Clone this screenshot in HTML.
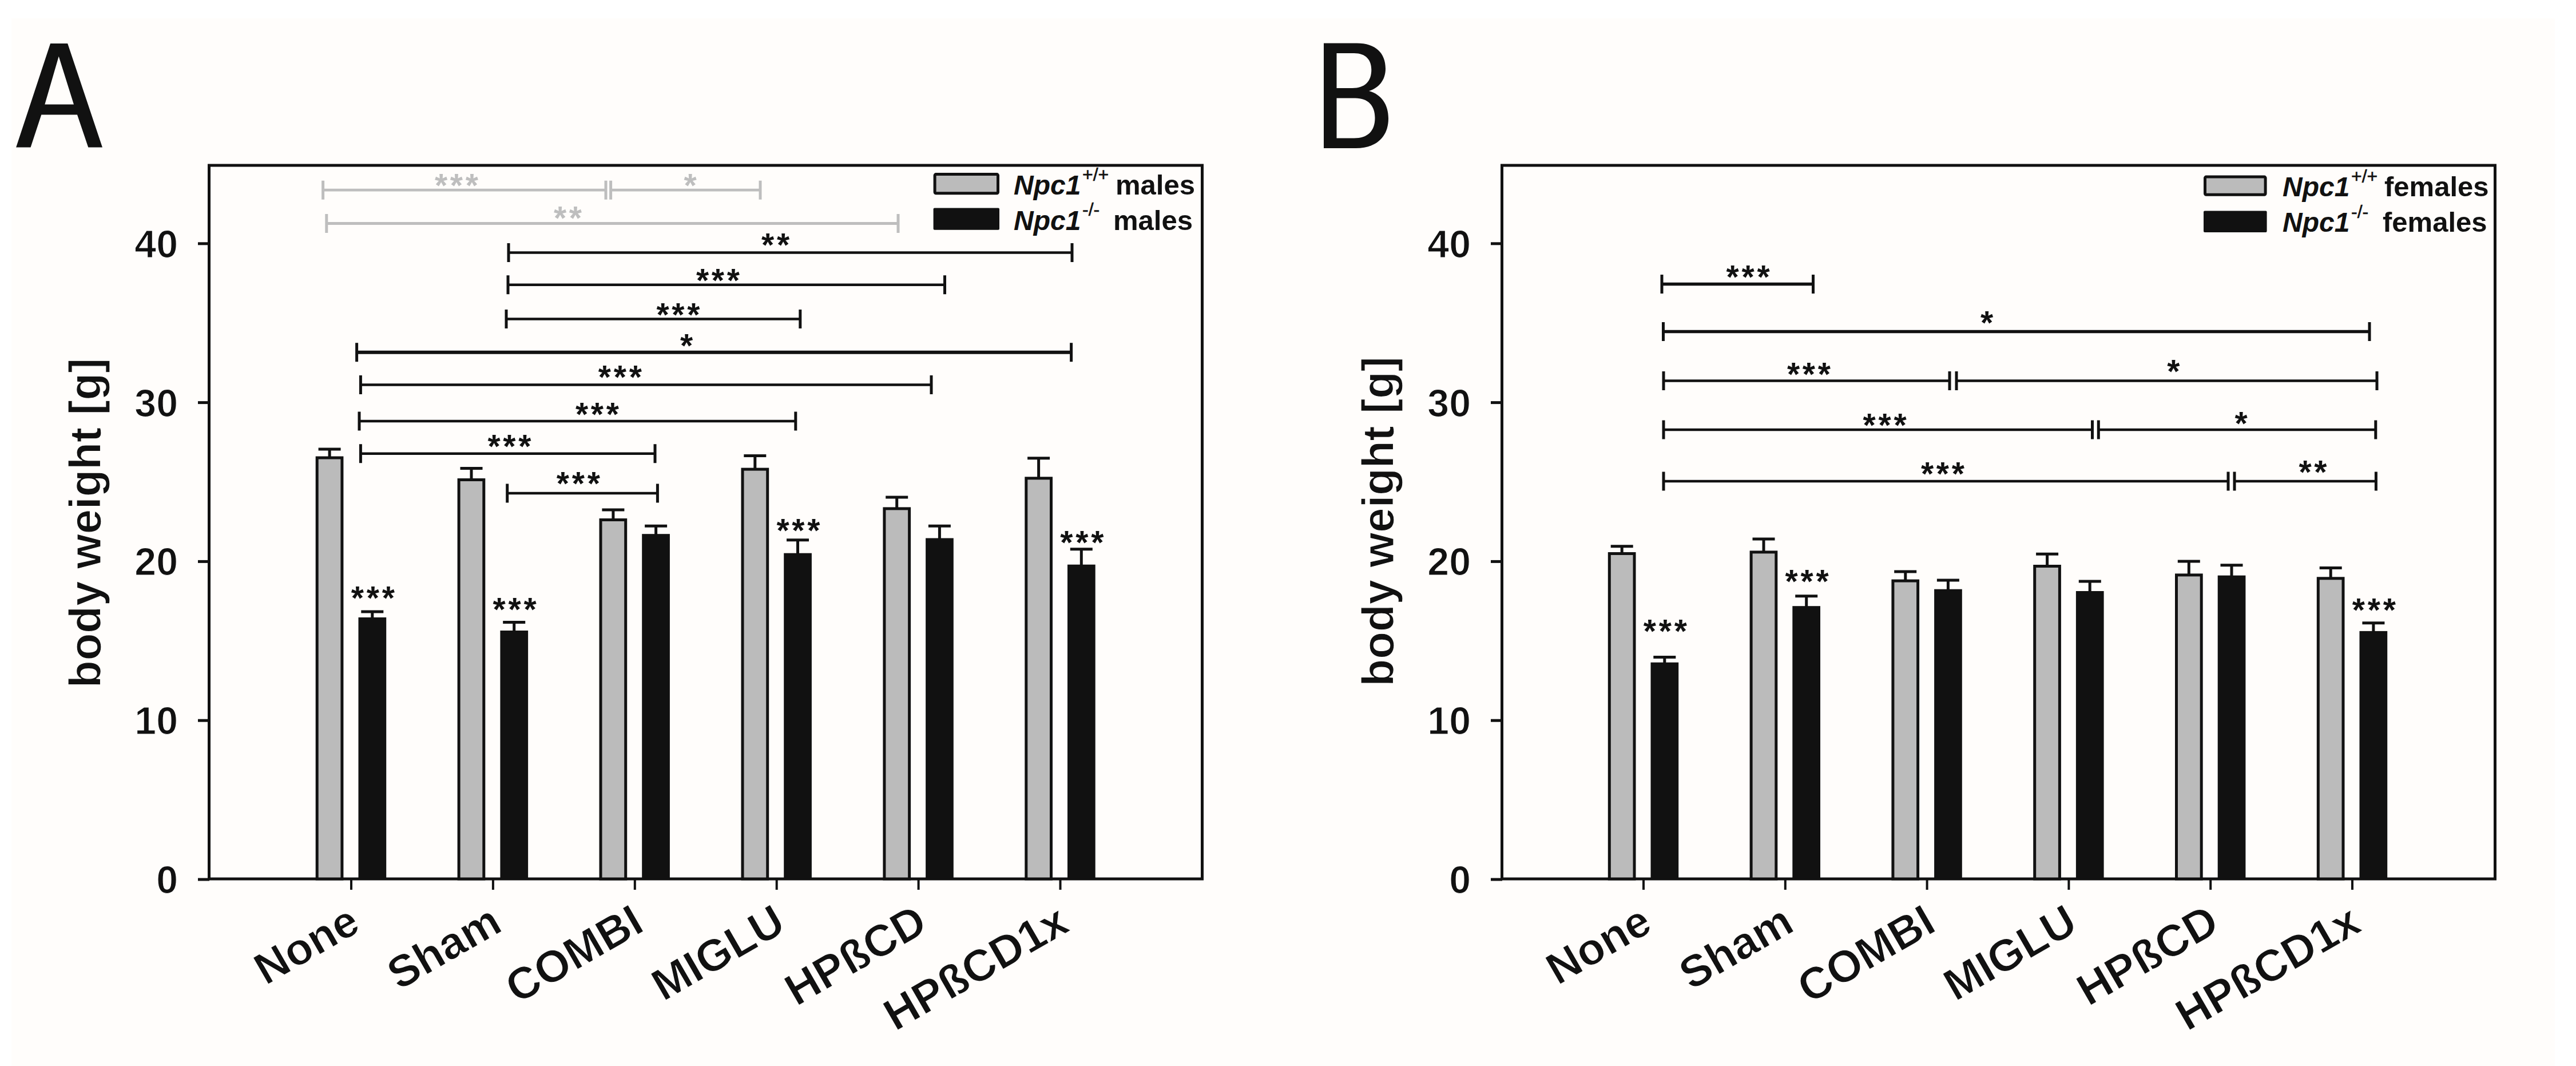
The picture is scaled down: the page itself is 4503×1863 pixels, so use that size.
<!DOCTYPE html>
<html><head><meta charset="utf-8"><style>
html,body{margin:0;padding:0;background:#ffffff;overflow:hidden}
svg{display:block}
</style></head><body>
<svg width="4503" height="1863" viewBox="0 0 4503 1863" font-family='"Liberation Sans", sans-serif'>
<rect width="4503" height="1863" fill="#ffffff"/>
<rect x="20" y="32" width="4446" height="1831" fill="#fffdfb"/>
<path fill-rule="evenodd" fill="#111" d="M28.1,257.6 L88.1,76 L118.2,76 L179,257.6 L154.3,257.6 L135,200.4 L72.3,200.4 L53.5,257.6 Z M78.3,182.4 L102.7,98.5 L129,182.4 Z"/>
<path fill-rule="evenodd" fill="#111" d="M2314,75.5 L2372,75.5 C2405,75.5 2422,93 2422,120 C2422,140 2410,154 2393,159 C2415,165 2427,183 2427,207 C2427,240 2405,259 2370,259 L2314,259 Z M2336.5,93 L2367,93 C2388,93 2397.3,105 2397.3,122 C2397.3,142 2386,154 2364,154 L2336.5,154 Z M2336.5,171.4 L2369,171.4 C2392,171.4 2403.5,185 2403.5,206 C2403.5,229 2391,241.5 2367,241.5 L2336.5,241.5 Z"/>
<rect x="365.5" y="289" width="1736" height="1247" fill="none" stroke="#111111" stroke-width="5"/>
<line x1="346.0" y1="1537.0" x2="366.0" y2="1537.0" stroke="#111111" stroke-width="5"/>
<text x="311" y="1561.0" font-size="68" text-anchor="end" font-weight="bold" stroke="#fffdfb" stroke-width="1.2" fill="#111111">0</text>
<line x1="346.0" y1="1259.2" x2="366.0" y2="1259.2" stroke="#111111" stroke-width="5"/>
<text x="311" y="1283.2" font-size="68" text-anchor="end" font-weight="bold" stroke="#fffdfb" stroke-width="1.2" fill="#111111">10</text>
<line x1="346.0" y1="981.4" x2="366.0" y2="981.4" stroke="#111111" stroke-width="5"/>
<text x="311" y="1005.4" font-size="68" text-anchor="end" font-weight="bold" stroke="#fffdfb" stroke-width="1.2" fill="#111111">20</text>
<line x1="346.0" y1="703.6" x2="366.0" y2="703.6" stroke="#111111" stroke-width="5"/>
<text x="311" y="727.6" font-size="68" text-anchor="end" font-weight="bold" stroke="#fffdfb" stroke-width="1.2" fill="#111111">30</text>
<line x1="346.0" y1="425.8" x2="366.0" y2="425.8" stroke="#111111" stroke-width="5"/>
<text x="311" y="449.8" font-size="68" text-anchor="end" font-weight="bold" stroke="#fffdfb" stroke-width="1.2" fill="#111111">40</text>
<rect x="554.2" y="800.0" width="43.7" height="736.0" fill="#bbbbbb" stroke="#111111" stroke-width="5"/>
<line x1="576.1" y1="785.0" x2="576.1" y2="799.5" stroke="#111111" stroke-width="5"/>
<line x1="556.6" y1="785.0" x2="595.6" y2="785.0" stroke="#111111" stroke-width="5"/>
<rect x="626.5" y="1079.0" width="48.7" height="457.0" fill="#111111"/>
<line x1="650.8" y1="1069.0" x2="650.8" y2="1080.0" stroke="#111111" stroke-width="5"/>
<line x1="631.3" y1="1069.0" x2="670.3" y2="1069.0" stroke="#111111" stroke-width="5"/>
<text x="613.7" y="1065.2" font-size="57" letter-spacing="4.8" fill="#111111" font-weight="bold">***</text>
<line x1="614.0" y1="1536.0" x2="614.0" y2="1555.0" stroke="#111111" stroke-width="4"/>
<rect x="802.1" y="838.5" width="43.7" height="697.5" fill="#bbbbbb" stroke="#111111" stroke-width="5"/>
<line x1="824.0" y1="818.5" x2="824.0" y2="838.0" stroke="#111111" stroke-width="5"/>
<line x1="804.5" y1="818.5" x2="843.5" y2="818.5" stroke="#111111" stroke-width="5"/>
<rect x="874.4" y="1102.0" width="48.7" height="434.0" fill="#111111"/>
<line x1="898.7" y1="1087.5" x2="898.7" y2="1103.0" stroke="#111111" stroke-width="5"/>
<line x1="879.2" y1="1087.5" x2="918.2" y2="1087.5" stroke="#111111" stroke-width="5"/>
<text x="861.6" y="1084.9" font-size="57" letter-spacing="4.8" fill="#111111" font-weight="bold">***</text>
<line x1="861.9" y1="1536.0" x2="861.9" y2="1555.0" stroke="#111111" stroke-width="4"/>
<rect x="1050.0" y="908.5" width="43.7" height="627.5" fill="#bbbbbb" stroke="#111111" stroke-width="5"/>
<line x1="1071.9" y1="891.0" x2="1071.9" y2="908.0" stroke="#111111" stroke-width="5"/>
<line x1="1052.4" y1="891.0" x2="1091.4" y2="891.0" stroke="#111111" stroke-width="5"/>
<rect x="1122.2" y="933.2" width="48.7" height="602.8" fill="#111111"/>
<line x1="1146.6" y1="919.2" x2="1146.6" y2="934.2" stroke="#111111" stroke-width="5"/>
<line x1="1127.1" y1="919.2" x2="1166.1" y2="919.2" stroke="#111111" stroke-width="5"/>
<line x1="1109.8" y1="1536.0" x2="1109.8" y2="1555.0" stroke="#111111" stroke-width="4"/>
<rect x="1298.0" y="820.1" width="43.7" height="715.9" fill="#bbbbbb" stroke="#111111" stroke-width="5"/>
<line x1="1319.8" y1="796.6" x2="1319.8" y2="819.6" stroke="#111111" stroke-width="5"/>
<line x1="1300.3" y1="796.6" x2="1339.3" y2="796.6" stroke="#111111" stroke-width="5"/>
<rect x="1370.2" y="966.7" width="48.7" height="569.3" fill="#111111"/>
<line x1="1394.5" y1="943.7" x2="1394.5" y2="967.7" stroke="#111111" stroke-width="5"/>
<line x1="1375.0" y1="943.7" x2="1414.0" y2="943.7" stroke="#111111" stroke-width="5"/>
<text x="1357.4" y="947.2" font-size="57" letter-spacing="4.8" fill="#111111" font-weight="bold">***</text>
<line x1="1357.7" y1="1536.0" x2="1357.7" y2="1555.0" stroke="#111111" stroke-width="4"/>
<rect x="1545.9" y="888.9" width="43.7" height="647.1" fill="#bbbbbb" stroke="#111111" stroke-width="5"/>
<line x1="1567.7" y1="869.0" x2="1567.7" y2="888.4" stroke="#111111" stroke-width="5"/>
<line x1="1548.2" y1="869.0" x2="1587.2" y2="869.0" stroke="#111111" stroke-width="5"/>
<rect x="1618.1" y="940.5" width="48.7" height="595.5" fill="#111111"/>
<line x1="1642.4" y1="919.3" x2="1642.4" y2="941.5" stroke="#111111" stroke-width="5"/>
<line x1="1622.9" y1="919.3" x2="1661.9" y2="919.3" stroke="#111111" stroke-width="5"/>
<line x1="1605.6" y1="1536.0" x2="1605.6" y2="1555.0" stroke="#111111" stroke-width="4"/>
<rect x="1793.8" y="835.8" width="43.7" height="700.2" fill="#bbbbbb" stroke="#111111" stroke-width="5"/>
<line x1="1815.6" y1="800.8" x2="1815.6" y2="835.3" stroke="#111111" stroke-width="5"/>
<line x1="1796.1" y1="800.8" x2="1835.1" y2="800.8" stroke="#111111" stroke-width="5"/>
<rect x="1866.0" y="986.7" width="48.7" height="549.3" fill="#111111"/>
<line x1="1890.3" y1="959.8" x2="1890.3" y2="987.7" stroke="#111111" stroke-width="5"/>
<line x1="1870.8" y1="959.8" x2="1909.8" y2="959.8" stroke="#111111" stroke-width="5"/>
<text x="1853.2" y="967.8" font-size="57" letter-spacing="4.8" fill="#111111" font-weight="bold">***</text>
<line x1="1853.5" y1="1536.0" x2="1853.5" y2="1555.0" stroke="#111111" stroke-width="4"/>
<text transform="translate(176,1202) rotate(-90)" font-size="78" font-weight="bold" stroke="#fffdfb" stroke-width="1.2" fill="#111111">body weight [g]</text>
<rect x="2625.5" y="289" width="1736" height="1247" fill="none" stroke="#111111" stroke-width="5"/>
<line x1="2606.0" y1="1537.0" x2="2626.0" y2="1537.0" stroke="#111111" stroke-width="5"/>
<text x="2571" y="1561.0" font-size="68" text-anchor="end" font-weight="bold" stroke="#fffdfb" stroke-width="1.2" fill="#111111">0</text>
<line x1="2606.0" y1="1259.2" x2="2626.0" y2="1259.2" stroke="#111111" stroke-width="5"/>
<text x="2571" y="1283.2" font-size="68" text-anchor="end" font-weight="bold" stroke="#fffdfb" stroke-width="1.2" fill="#111111">10</text>
<line x1="2606.0" y1="981.4" x2="2626.0" y2="981.4" stroke="#111111" stroke-width="5"/>
<text x="2571" y="1005.4" font-size="68" text-anchor="end" font-weight="bold" stroke="#fffdfb" stroke-width="1.2" fill="#111111">20</text>
<line x1="2606.0" y1="703.6" x2="2626.0" y2="703.6" stroke="#111111" stroke-width="5"/>
<text x="2571" y="727.6" font-size="68" text-anchor="end" font-weight="bold" stroke="#fffdfb" stroke-width="1.2" fill="#111111">30</text>
<line x1="2606.0" y1="425.8" x2="2626.0" y2="425.8" stroke="#111111" stroke-width="5"/>
<text x="2571" y="449.8" font-size="68" text-anchor="end" font-weight="bold" stroke="#fffdfb" stroke-width="1.2" fill="#111111">40</text>
<rect x="2813.3" y="967.5" width="43.7" height="568.5" fill="#bbbbbb" stroke="#111111" stroke-width="5"/>
<line x1="2835.2" y1="954.8" x2="2835.2" y2="967.0" stroke="#111111" stroke-width="5"/>
<line x1="2815.7" y1="954.8" x2="2854.7" y2="954.8" stroke="#111111" stroke-width="5"/>
<rect x="2885.5" y="1157.7" width="48.7" height="378.3" fill="#111111"/>
<line x1="2909.8" y1="1148.5" x2="2909.8" y2="1158.7" stroke="#111111" stroke-width="5"/>
<line x1="2890.3" y1="1148.5" x2="2929.3" y2="1148.5" stroke="#111111" stroke-width="5"/>
<text x="2872.8" y="1123.2" font-size="57" letter-spacing="4.8" fill="#111111" font-weight="bold">***</text>
<line x1="2873.0" y1="1536.0" x2="2873.0" y2="1555.0" stroke="#111111" stroke-width="4"/>
<rect x="3061.1" y="964.9" width="43.7" height="571.1" fill="#bbbbbb" stroke="#111111" stroke-width="5"/>
<line x1="3083.0" y1="942.0" x2="3083.0" y2="964.4" stroke="#111111" stroke-width="5"/>
<line x1="3063.5" y1="942.0" x2="3102.5" y2="942.0" stroke="#111111" stroke-width="5"/>
<rect x="3133.3" y="1059.2" width="48.7" height="476.8" fill="#111111"/>
<line x1="3157.7" y1="1041.8" x2="3157.7" y2="1060.2" stroke="#111111" stroke-width="5"/>
<line x1="3138.2" y1="1041.8" x2="3177.2" y2="1041.8" stroke="#111111" stroke-width="5"/>
<text x="3120.6" y="1036.2" font-size="57" letter-spacing="4.8" fill="#111111" font-weight="bold">***</text>
<line x1="3120.8" y1="1536.0" x2="3120.8" y2="1555.0" stroke="#111111" stroke-width="4"/>
<rect x="3308.9" y="1015.1" width="43.7" height="520.9" fill="#bbbbbb" stroke="#111111" stroke-width="5"/>
<line x1="3330.8" y1="999.0" x2="3330.8" y2="1014.6" stroke="#111111" stroke-width="5"/>
<line x1="3311.2" y1="999.0" x2="3350.2" y2="999.0" stroke="#111111" stroke-width="5"/>
<rect x="3381.1" y="1029.7" width="48.7" height="506.3" fill="#111111"/>
<line x1="3405.4" y1="1014.0" x2="3405.4" y2="1030.7" stroke="#111111" stroke-width="5"/>
<line x1="3385.9" y1="1014.0" x2="3424.9" y2="1014.0" stroke="#111111" stroke-width="5"/>
<line x1="3368.6" y1="1536.0" x2="3368.6" y2="1555.0" stroke="#111111" stroke-width="4"/>
<rect x="3556.7" y="989.5" width="43.7" height="546.5" fill="#bbbbbb" stroke="#111111" stroke-width="5"/>
<line x1="3578.6" y1="968.3" x2="3578.6" y2="989.0" stroke="#111111" stroke-width="5"/>
<line x1="3559.1" y1="968.3" x2="3598.1" y2="968.3" stroke="#111111" stroke-width="5"/>
<rect x="3628.9" y="1033.0" width="48.7" height="503.0" fill="#111111"/>
<line x1="3653.2" y1="1015.9" x2="3653.2" y2="1034.0" stroke="#111111" stroke-width="5"/>
<line x1="3633.8" y1="1015.9" x2="3672.8" y2="1015.9" stroke="#111111" stroke-width="5"/>
<line x1="3616.4" y1="1536.0" x2="3616.4" y2="1555.0" stroke="#111111" stroke-width="4"/>
<rect x="3804.5" y="1004.9" width="43.7" height="531.1" fill="#bbbbbb" stroke="#111111" stroke-width="5"/>
<line x1="3826.3" y1="981.0" x2="3826.3" y2="1004.4" stroke="#111111" stroke-width="5"/>
<line x1="3806.8" y1="981.0" x2="3845.8" y2="981.0" stroke="#111111" stroke-width="5"/>
<rect x="3876.7" y="1005.7" width="48.7" height="530.3" fill="#111111"/>
<line x1="3901.0" y1="987.7" x2="3901.0" y2="1006.7" stroke="#111111" stroke-width="5"/>
<line x1="3881.5" y1="987.7" x2="3920.5" y2="987.7" stroke="#111111" stroke-width="5"/>
<line x1="3864.2" y1="1536.0" x2="3864.2" y2="1555.0" stroke="#111111" stroke-width="4"/>
<rect x="4052.3" y="1010.8" width="43.7" height="525.2" fill="#bbbbbb" stroke="#111111" stroke-width="5"/>
<line x1="4074.2" y1="992.6" x2="4074.2" y2="1010.3" stroke="#111111" stroke-width="5"/>
<line x1="4054.7" y1="992.6" x2="4093.7" y2="992.6" stroke="#111111" stroke-width="5"/>
<rect x="4124.5" y="1102.9" width="48.7" height="433.1" fill="#111111"/>
<line x1="4148.9" y1="1088.8" x2="4148.9" y2="1103.9" stroke="#111111" stroke-width="5"/>
<line x1="4129.4" y1="1088.8" x2="4168.4" y2="1088.8" stroke="#111111" stroke-width="5"/>
<text x="4111.8" y="1085.6" font-size="57" letter-spacing="4.8" fill="#111111" font-weight="bold">***</text>
<line x1="4112.0" y1="1536.0" x2="4112.0" y2="1555.0" stroke="#111111" stroke-width="4"/>
<text transform="translate(2436,1199.4) rotate(-90)" font-size="78" font-weight="bold" stroke="#fffdfb" stroke-width="1.2" fill="#111111">body weight [g]</text>
<text transform="translate(633.4,1625.2) rotate(-30)" font-size="78" font-weight="bold" text-anchor="end" stroke="#fffdfb" stroke-width="1.2" fill="#111111">None</text>
<text transform="translate(881.2,1625.2) rotate(-30)" font-size="78" font-weight="bold" text-anchor="end" stroke="#fffdfb" stroke-width="1.2" fill="#111111">Sham</text>
<text transform="translate(1129.2,1625.2) rotate(-30)" font-size="78" font-weight="bold" text-anchor="end" stroke="#fffdfb" stroke-width="1.2" fill="#111111">COMBI</text>
<text transform="translate(1377.1,1625.2) rotate(-30)" font-size="78" font-weight="bold" text-anchor="end" stroke="#fffdfb" stroke-width="1.2" fill="#111111">MIGLU</text>
<text transform="translate(1625.0,1625.2) rotate(-30)" font-size="78" font-weight="bold" text-anchor="end" stroke="#fffdfb" stroke-width="1.2" fill="#111111">HPßCD</text>
<text transform="translate(1872.9,1625.2) rotate(-30)" font-size="78" font-weight="bold" text-anchor="end" stroke="#fffdfb" stroke-width="1.2" fill="#111111">HPßCD1x</text>
<text transform="translate(2891.8,1625.2) rotate(-30)" font-size="78" font-weight="bold" text-anchor="end" stroke="#fffdfb" stroke-width="1.2" fill="#111111">None</text>
<text transform="translate(3139.8,1625.2) rotate(-30)" font-size="78" font-weight="bold" text-anchor="end" stroke="#fffdfb" stroke-width="1.2" fill="#111111">Sham</text>
<text transform="translate(3387.7,1625.2) rotate(-30)" font-size="78" font-weight="bold" text-anchor="end" stroke="#fffdfb" stroke-width="1.2" fill="#111111">COMBI</text>
<text transform="translate(3635.6,1625.2) rotate(-30)" font-size="78" font-weight="bold" text-anchor="end" stroke="#fffdfb" stroke-width="1.2" fill="#111111">MIGLU</text>
<text transform="translate(3883.5,1625.2) rotate(-30)" font-size="78" font-weight="bold" text-anchor="end" stroke="#fffdfb" stroke-width="1.2" fill="#111111">HPßCD</text>
<text transform="translate(4131.3,1625.2) rotate(-30)" font-size="78" font-weight="bold" text-anchor="end" stroke="#fffdfb" stroke-width="1.2" fill="#111111">HPßCD1x</text>
<line x1="564.6" y1="332.2" x2="1059.0" y2="332.2" stroke="#bebebe" stroke-width="4.8"/>
<line x1="564.6" y1="315.7" x2="564.6" y2="348.7" stroke="#bebebe" stroke-width="5"/>
<line x1="1059.0" y1="315.7" x2="1059.0" y2="348.7" stroke="#bebebe" stroke-width="5"/>
<text x="759.9" y="344.2" font-size="57" letter-spacing="4.8" fill="#bebebe" font-weight="bold">***</text>
<line x1="1067.6" y1="332.2" x2="1329.0" y2="332.2" stroke="#bebebe" stroke-width="4.8"/>
<line x1="1067.6" y1="315.7" x2="1067.6" y2="348.7" stroke="#bebebe" stroke-width="5"/>
<line x1="1329.0" y1="315.7" x2="1329.0" y2="348.7" stroke="#bebebe" stroke-width="5"/>
<text x="1195.4" y="344.2" font-size="57" letter-spacing="4.8" fill="#bebebe" font-weight="bold">*</text>
<line x1="570.8" y1="390.5" x2="1570.0" y2="390.5" stroke="#bebebe" stroke-width="4.8"/>
<line x1="570.8" y1="374.0" x2="570.8" y2="407.0" stroke="#bebebe" stroke-width="5"/>
<line x1="1570.0" y1="374.0" x2="1570.0" y2="407.0" stroke="#bebebe" stroke-width="5"/>
<text x="967.9" y="400.7" font-size="57" letter-spacing="4.8" fill="#bebebe" font-weight="bold">**</text>
<line x1="889.0" y1="441.5" x2="1874.0" y2="441.5" stroke="#111111" stroke-width="4.5"/>
<line x1="889.0" y1="425.0" x2="889.0" y2="458.0" stroke="#111111" stroke-width="5"/>
<line x1="1874.0" y1="425.0" x2="1874.0" y2="458.0" stroke="#111111" stroke-width="5"/>
<text x="1331.1" y="447.7" font-size="57" letter-spacing="4.8" fill="#111111" font-weight="bold">**</text>
<line x1="888.0" y1="497.7" x2="1651.5" y2="497.7" stroke="#111111" stroke-width="4.5"/>
<line x1="888.0" y1="481.2" x2="888.0" y2="514.2" stroke="#111111" stroke-width="5"/>
<line x1="1651.5" y1="481.2" x2="1651.5" y2="514.2" stroke="#111111" stroke-width="5"/>
<text x="1216.9" y="509.8" font-size="57" letter-spacing="4.8" fill="#111111" font-weight="bold">***</text>
<line x1="885.0" y1="557.5" x2="1398.8" y2="557.5" stroke="#111111" stroke-width="4.5"/>
<line x1="885.0" y1="541.0" x2="885.0" y2="574.0" stroke="#111111" stroke-width="5"/>
<line x1="1398.8" y1="541.0" x2="1398.8" y2="574.0" stroke="#111111" stroke-width="5"/>
<text x="1147.4" y="570.2" font-size="57" letter-spacing="4.8" fill="#111111" font-weight="bold">***</text>
<line x1="623.6" y1="615.7" x2="1872.6" y2="615.7" stroke="#111111" stroke-width="6"/>
<line x1="623.6" y1="599.2" x2="623.6" y2="632.2" stroke="#111111" stroke-width="5"/>
<line x1="1872.6" y1="599.2" x2="1872.6" y2="632.2" stroke="#111111" stroke-width="5"/>
<text x="1188.9" y="623.7" font-size="57" letter-spacing="4.8" fill="#111111" font-weight="bold">*</text>
<line x1="630.4" y1="672.5" x2="1628.0" y2="672.5" stroke="#111111" stroke-width="4.5"/>
<line x1="630.4" y1="656.0" x2="630.4" y2="689.0" stroke="#111111" stroke-width="5"/>
<line x1="1628.0" y1="656.0" x2="1628.0" y2="689.0" stroke="#111111" stroke-width="5"/>
<text x="1045.7" y="678.9" font-size="57" letter-spacing="4.8" fill="#111111" font-weight="bold">***</text>
<line x1="628.0" y1="736.0" x2="1390.8" y2="736.0" stroke="#111111" stroke-width="4.5"/>
<line x1="628.0" y1="719.5" x2="628.0" y2="752.5" stroke="#111111" stroke-width="5"/>
<line x1="1390.8" y1="719.5" x2="1390.8" y2="752.5" stroke="#111111" stroke-width="5"/>
<text x="1005.9" y="744.2" font-size="57" letter-spacing="4.8" fill="#111111" font-weight="bold">***</text>
<line x1="630.4" y1="792.7" x2="1145.0" y2="792.7" stroke="#111111" stroke-width="4.5"/>
<line x1="630.4" y1="776.2" x2="630.4" y2="809.2" stroke="#111111" stroke-width="5"/>
<line x1="1145.0" y1="776.2" x2="1145.0" y2="809.2" stroke="#111111" stroke-width="5"/>
<text x="852.4" y="800.2" font-size="57" letter-spacing="4.8" fill="#111111" font-weight="bold">***</text>
<line x1="886.7" y1="862.0" x2="1149.4" y2="862.0" stroke="#111111" stroke-width="4.5"/>
<line x1="886.7" y1="845.5" x2="886.7" y2="878.5" stroke="#111111" stroke-width="5"/>
<line x1="1149.4" y1="845.5" x2="1149.4" y2="878.5" stroke="#111111" stroke-width="5"/>
<text x="972.7" y="865.2" font-size="57" letter-spacing="4.8" fill="#111111" font-weight="bold">***</text>
<line x1="2905.0" y1="496.5" x2="3169.5" y2="496.5" stroke="#111111" stroke-width="5.5"/>
<line x1="2905.0" y1="480.0" x2="2905.0" y2="513.0" stroke="#111111" stroke-width="5"/>
<line x1="3169.5" y1="480.0" x2="3169.5" y2="513.0" stroke="#111111" stroke-width="5"/>
<text x="3017.5" y="504.2" font-size="57" letter-spacing="4.8" fill="#111111" font-weight="bold">***</text>
<line x1="2907.5" y1="579.5" x2="4142.0" y2="579.5" stroke="#111111" stroke-width="5.5"/>
<line x1="2907.5" y1="563.0" x2="2907.5" y2="596.0" stroke="#111111" stroke-width="5"/>
<line x1="4142.0" y1="563.0" x2="4142.0" y2="596.0" stroke="#111111" stroke-width="5"/>
<text x="3461.9" y="584.2" font-size="57" letter-spacing="4.8" fill="#111111" font-weight="bold">*</text>
<line x1="2908.0" y1="665.5" x2="3408.0" y2="665.5" stroke="#111111" stroke-width="4.5"/>
<line x1="2908.0" y1="649.0" x2="2908.0" y2="682.0" stroke="#111111" stroke-width="5"/>
<line x1="3408.0" y1="649.0" x2="3408.0" y2="682.0" stroke="#111111" stroke-width="5"/>
<line x1="3420.0" y1="665.5" x2="4155.0" y2="665.5" stroke="#111111" stroke-width="4.5"/>
<line x1="3420.0" y1="649.0" x2="3420.0" y2="682.0" stroke="#111111" stroke-width="5"/>
<line x1="4155.0" y1="649.0" x2="4155.0" y2="682.0" stroke="#111111" stroke-width="5"/>
<text x="3123.9" y="673.8" font-size="57" letter-spacing="4.8" fill="#111111" font-weight="bold">***</text>
<text x="3788.2" y="669.0" font-size="57" letter-spacing="4.8" fill="#111111" font-weight="bold">*</text>
<line x1="2908.0" y1="751.0" x2="3657.5" y2="751.0" stroke="#111111" stroke-width="4.5"/>
<line x1="2908.0" y1="734.5" x2="2908.0" y2="767.5" stroke="#111111" stroke-width="5"/>
<line x1="3657.5" y1="734.5" x2="3657.5" y2="767.5" stroke="#111111" stroke-width="5"/>
<line x1="3668.3" y1="751.0" x2="4152.8" y2="751.0" stroke="#111111" stroke-width="4.5"/>
<line x1="3668.3" y1="734.5" x2="3668.3" y2="767.5" stroke="#111111" stroke-width="5"/>
<line x1="4152.8" y1="734.5" x2="4152.8" y2="767.5" stroke="#111111" stroke-width="5"/>
<text x="3256.6" y="762.9" font-size="57" letter-spacing="4.8" fill="#111111" font-weight="bold">***</text>
<text x="3906.4" y="760.2" font-size="57" letter-spacing="4.8" fill="#111111" font-weight="bold">*</text>
<line x1="2908.0" y1="841.0" x2="3895.0" y2="841.0" stroke="#111111" stroke-width="4.5"/>
<line x1="2908.0" y1="824.5" x2="2908.0" y2="857.5" stroke="#111111" stroke-width="5"/>
<line x1="3895.0" y1="824.5" x2="3895.0" y2="857.5" stroke="#111111" stroke-width="5"/>
<line x1="3906.0" y1="841.0" x2="4153.4" y2="841.0" stroke="#111111" stroke-width="4.5"/>
<line x1="3906.0" y1="824.5" x2="3906.0" y2="857.5" stroke="#111111" stroke-width="5"/>
<line x1="4153.4" y1="824.5" x2="4153.4" y2="857.5" stroke="#111111" stroke-width="5"/>
<text x="3357.9" y="848.2" font-size="57" letter-spacing="4.8" fill="#111111" font-weight="bold">***</text>
<text x="4018.4" y="845.2" font-size="57" letter-spacing="4.8" fill="#111111" font-weight="bold">**</text>
<rect x="1634.1" y="304.6" width="110.40000000000009" height="33.19999999999999" fill="#bbbbbb" stroke="#111111" stroke-width="5" rx="2"/>
<rect x="1631.6" y="363.6" width="115.40000000000009" height="38.19999999999999" fill="#111111" rx="2"/>
<text x="1772" y="340.3" font-size="48" font-weight="bold" font-style="italic" fill="#111111">Npc1</text>
<text x="1892" y="315.8" font-size="32" font-weight="normal" stroke="#111111" stroke-width="0.6" fill="#111111">+/+</text>
<text x="1772" y="401.8" font-size="48" font-weight="bold" font-style="italic" fill="#111111">Npc1</text>
<text x="1892" y="377.3" font-size="32" font-weight="normal" stroke="#111111" stroke-width="0.6" fill="#111111">-/-</text>
<text x="1950" y="340.3" font-size="49" font-weight="bold" fill="#111111">males</text>
<text x="1946" y="401.8" font-size="49" font-weight="bold" fill="#111111">males</text>
<rect x="3854.5" y="309.1" width="105.59999999999991" height="31.099999999999966" fill="#bbbbbb" stroke="#111111" stroke-width="5" rx="2"/>
<rect x="3852" y="368.5" width="110.59999999999991" height="37.5" fill="#111111" rx="2"/>
<text x="3990" y="343.4" font-size="48" font-weight="bold" font-style="italic" fill="#111111">Npc1</text>
<text x="4110" y="318.9" font-size="32" font-weight="normal" stroke="#111111" stroke-width="0.6" fill="#111111">+/+</text>
<text x="3990" y="405.4" font-size="48" font-weight="bold" font-style="italic" fill="#111111">Npc1</text>
<text x="4110" y="380.9" font-size="32" font-weight="normal" stroke="#111111" stroke-width="0.6" fill="#111111">-/-</text>
<text x="4168" y="343.4" font-size="49" font-weight="bold" fill="#111111">females</text>
<text x="4165" y="405.4" font-size="49" font-weight="bold" fill="#111111">females</text>
</svg>
</body></html>
